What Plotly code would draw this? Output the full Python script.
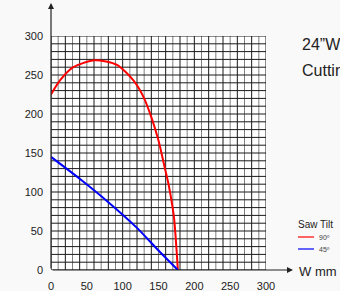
import plotly.graph_objects as go

# Data
red_x = [0, 12.5, 31, 61, 92, 115, 129, 140, 150, 159, 164, 171.5, 177]
red_y = [225, 243, 260, 269, 263, 243, 222, 196, 166, 130, 110, 68, 0]
blue_x = [0, 40, 80, 120, 152, 177]
blue_y = [145, 117, 87, 54, 23, 0]
tick_vals = [0, 50, 100, 150, 200, 250, 300]
tick_text = ["0", "50", "100", "150", "200", "250", "300"]
series_names = ["90º", "45º"]
series_colors = ["#ff0000", "#0000ff"]

fig = go.Figure()
fig.add_trace(go.Scatter(x=red_x, y=red_y, mode="lines", name=series_names[0],
                         line=dict(color=series_colors[0], width=2, shape="spline", smoothing=0.7),
                         showlegend=False))
fig.add_trace(go.Scatter(x=blue_x, y=blue_y, mode="lines", name=series_names[1],
                         line=dict(color=series_colors[1], width=2, shape="spline", smoothing=0.6),
                         showlegend=False))

font = "Liberation Sans, Arial, sans-serif"
fig.update_layout(
    width=340, height=291,
    margin=dict(l=51, r=74, t=36, b=21, autoexpand=False),
    paper_bgcolor="#f9f9f9", plot_bgcolor="white",
    font=dict(family=font, size=11, color="#222"),
    xaxis=dict(range=[0, 300], tickmode="array", tickvals=tick_vals, ticktext=tick_text,
               showgrid=False, zeroline=False, showline=False, ticks="", ticklabelstandoff=8,
               fixedrange=True, automargin=False),
    yaxis=dict(range=[0, 300], tickvals=tick_vals, ticktext=tick_text,
               showgrid=False, zeroline=False, showline=False, ticks="", ticklabelstandoff=7,
               fixedrange=True, automargin=False),
)

# grid lines every 10 units
shapes = []
for v in range(0, 301, 10):
    vcol = "#1a1a1a" if (v // 10) % 2 == 0 else "#808080"
    shapes.append(dict(type="line", xref="x", yref="y", x0=v, x1=v, y0=0, y1=300,
                       line=dict(color=vcol, width=1), layer="below"))
for v in range(0, 301, 10):
    shapes.append(dict(type="line", xref="x", yref="y", x0=0, x1=300, y0=v, y1=v,
                       line=dict(color="#1a1a1a", width=1), layer="below"))

def px(xp):
    return (xp - 51) / 215

def py(yp):
    return (270 - yp) / 234

# legend lines
shapes.append(dict(type="line", xref="paper", yref="paper",
                   x0=px(298), x1=px(314), y0=py(237), y1=py(237),
                   line=dict(color=series_colors[0], width=1.2)))
shapes.append(dict(type="line", xref="paper", yref="paper",
                   x0=px(298), x1=px(314), y0=py(249), y1=py(249),
                   line=dict(color=series_colors[1], width=1.2)))
fig.update_layout(shapes=shapes)

ann = []
# axis arrows
ann.append(dict(xref="x domain", yref="y domain", axref="x domain", ayref="y domain",
                x=0, y=py(3), ax=0, ay=0, showarrow=True, arrowhead=2, arrowsize=1,
                arrowwidth=1.2, arrowcolor="#222", text=""))
ann.append(dict(xref="x domain", yref="y domain", axref="x domain", ayref="y domain",
                x=px(293), y=0, ax=0, ay=0, showarrow=True, arrowhead=2, arrowsize=1,
                arrowwidth=1.2, arrowcolor="#222", text=""))
ann.append(dict(xref="paper", yref="paper", x=px(297), y=py(271), text="W mm",
                showarrow=False, xanchor="left", yanchor="middle",
                font=dict(size=13, color="#222", family=font)))
ann.append(dict(xref="paper", yref="paper", x=px(300), y=py(45), text="24”W",
                showarrow=False, xanchor="left", yanchor="middle",
                font=dict(size=16, color="#222", family=font)))
ann.append(dict(xref="paper", yref="paper", x=px(300), y=py(70), text="Cutting",
                showarrow=False, xanchor="left", yanchor="middle",
                font=dict(size=16, color="#222", family=font)))
ann.append(dict(xref="paper", yref="paper", x=px(296), y=py(224), text="Saw Tilt",
                showarrow=False, xanchor="left", yanchor="middle",
                font=dict(size=10, color="#222", family=font)))
ann.append(dict(xref="paper", yref="paper", x=px(317), y=py(237), text=series_names[0],
                showarrow=False, xanchor="left", yanchor="middle",
                font=dict(size=7, color="#444", family=font)))
ann.append(dict(xref="paper", yref="paper", x=px(317), y=py(249), text=series_names[1],
                showarrow=False, xanchor="left", yanchor="middle",
                font=dict(size=7, color="#444", family=font)))
fig.update_layout(annotations=ann)

fig.write_html("out.html", config={"displayModeBar": False},
               post_script="document.body.style.margin='0px';")
